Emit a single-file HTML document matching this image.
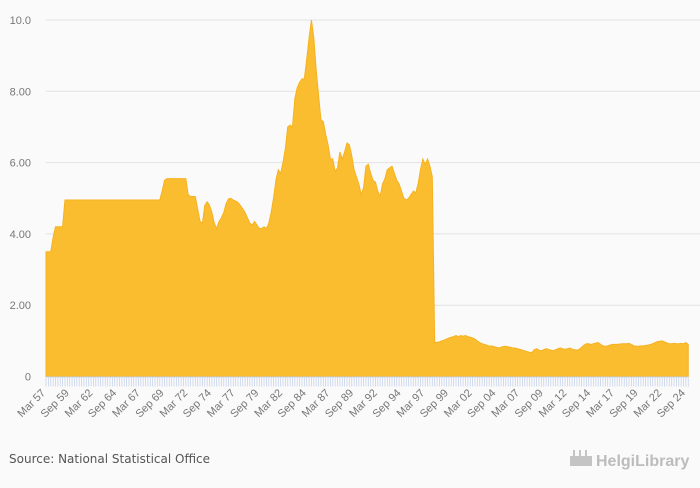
<!DOCTYPE html>
<html><head><meta charset="utf-8"><style>
html,body{margin:0;padding:0;background:#fafafa;}
body{width:700px;height:483px;overflow:hidden;font-family:"Liberation Sans",sans-serif;}
</style></head><body>
<svg id="chart" width="700" height="483" xmlns="http://www.w3.org/2000/svg">
<rect x="0" y="0" width="700" height="483" fill="#fafafa"/>
<g id="grid"></g>
<g id="yaxis"></g>
<path id="area" fill="#fbbd30" stroke="#f5b21f" stroke-width="1"/>
<g id="xaxis"></g>
<text x="9" y="463" font-size="12" fill="#555" font-family="DejaVu Sans, sans-serif">Source: National Statistical Office</text>
<g>
<rect x="570" y="456" width="22" height="10" fill="#c4c4c4"/>
<rect x="573" y="450" width="2" height="6" fill="#c4c4c4"/>
<rect x="579" y="450" width="2" height="6" fill="#c4c4c4"/>
<rect x="585" y="450" width="2" height="6" fill="#c4c4c4"/>
<text x="596" y="466" font-size="16" fill="#bcbcbc" font-weight="bold">HelgiLibrary</text>
</g>
</svg>
<script>
const yTicks=[0,2,4,6,8,10];
const yTickLabels=["0","2.00","4.00","6.00","8.00","10.0"];
const xTickLabels=["Mar 57","Sep 59","Mar 62","Sep 64","Mar 67","Sep 69","Mar 72","Sep 74","Mar 77","Sep 79","Mar 82","Sep 84","Mar 87","Sep 89","Mar 92","Sep 94","Mar 97","Sep 99","Mar 02","Sep 04","Mar 07","Sep 09","Mar 12","Sep 14","Mar 17","Sep 19","Mar 22","Sep 24"];
const values=[
3.5,3.5,3.5,3.9,4.2,4.2,4.2,4.2,4.95,4.95,
4.95,4.95,4.95,4.95,4.95,4.95,4.95,4.95,4.95,4.95,
4.95,4.95,4.95,4.95,4.95,4.95,4.95,4.95,4.95,4.95,
4.95,4.95,4.95,4.95,4.95,4.95,4.95,4.95,4.95,4.95,
4.95,4.95,4.95,4.95,4.95,4.95,4.95,4.95,4.95,5.2,
5.5,5.55,5.55,5.55,5.55,5.55,5.55,5.55,5.55,5.55,
5.1,5.05,5.05,5.05,4.7,4.35,4.3,4.8,4.9,4.8,
4.6,4.3,4.15,4.35,4.45,4.6,4.85,4.98,5.0,4.95,
4.92,4.88,4.8,4.7,4.6,4.45,4.3,4.25,4.35,4.25,
4.15,4.15,4.2,4.15,4.3,4.6,5.0,5.5,5.8,5.7,
6.0,6.4,7.0,7.05,7.0,7.8,8.1,8.25,8.35,8.35,
8.9,9.5,10.0,9.5,8.6,7.9,7.2,7.15,6.8,6.5,
6.1,6.1,5.75,5.85,6.3,6.1,6.3,6.55,6.5,6.2,
5.8,5.6,5.4,5.1,5.3,5.9,5.95,5.7,5.5,5.45,
5.2,5.05,5.4,5.55,5.8,5.85,5.9,5.7,5.5,5.4,
5.2,5.0,4.95,5.0,5.1,5.2,5.15,5.4,5.8,6.1,
5.95,6.1,5.9,5.6,0.95,0.96,0.97,1.0,1.02,1.05,
1.08,1.1,1.12,1.15,1.12,1.15,1.13,1.15,1.12,1.1,
1.08,1.05,1.0,0.95,0.92,0.9,0.88,0.85,0.86,0.84,
0.82,0.8,0.82,0.84,0.85,0.83,0.82,0.8,0.8,0.78,
0.76,0.74,0.72,0.7,0.68,0.67,0.75,0.78,0.74,0.72,
0.75,0.78,0.76,0.74,0.72,0.75,0.78,0.8,0.78,0.76,
0.78,0.8,0.77,0.75,0.74,0.76,0.82,0.88,0.92,0.92,
0.9,0.92,0.94,0.95,0.9,0.86,0.85,0.86,0.88,0.9,
0.9,0.9,0.91,0.92,0.92,0.92,0.93,0.9,0.86,0.85,
0.85,0.86,0.86,0.87,0.88,0.9,0.92,0.95,0.98,0.99,
1.0,0.97,0.94,0.92,0.92,0.93,0.92,0.92,0.93,0.92,0.95,0.9
];
const NS="http://www.w3.org/2000/svg";
const X0=46,STEP=2.37,Y0=376.5,YS=35.65;
function xScale(i){return X0+i*STEP;}
function yScale(v){return Y0-v*YS;}
const grid=document.getElementById('grid'),yax=document.getElementById('yaxis'),xax=document.getElementById('xaxis');
yTicks.forEach((t,k)=>{
  if(t>0){const l=document.createElementNS(NS,'line');
  
  
  l.setAttribute('x1',X0);l.setAttribute('x2',700);l.setAttribute('y1',yScale(t));l.setAttribute('y2',yScale(t));
  l.setAttribute('stroke','#e2e2e2');l.setAttribute('stroke-width','1');grid.appendChild(l);}
  const tx=document.createElementNS(NS,'text');
  
  
  tx.setAttribute('x',31);tx.setAttribute('y',yScale(t)+4);tx.setAttribute('text-anchor','end');
  tx.setAttribute('font-size','11');tx.setAttribute('fill','#777');tx.textContent=yTickLabels[k];yax.appendChild(tx);
});
let d='M'+xScale(0)+','+Y0;
values.forEach((v,i)=>{d+=' L'+xScale(i).toFixed(2)+','+yScale(v).toFixed(2);});
d+=' L'+xScale(values.length-1).toFixed(2)+','+Y0+' Z';
document.getElementById('area').setAttribute('d',d);
const base=document.createElementNS(NS,'line');


base.setAttribute('x1',X0);base.setAttribute('x2',xScale(values.length-1));base.setAttribute('y1',Y0+0.5);base.setAttribute('y2',Y0+0.5);
base.setAttribute('stroke','#c8d4ea');xax.appendChild(base);
values.forEach((v,i)=>{
  const t=document.createElementNS(NS,'line');
  
  
  t.setAttribute('x1',xScale(i));t.setAttribute('x2',xScale(i));t.setAttribute('y1',Y0+1);t.setAttribute('y2',Y0+10);
  t.setAttribute('stroke','#c8d4ea');t.setAttribute('stroke-width','0.8');xax.appendChild(t);
});
xTickLabels.forEach((lab,k)=>{
  const x=xScale(k*10),y=Y0+17;
  const tx=document.createElementNS(NS,'text');
  
  
  tx.setAttribute('x',x);tx.setAttribute('y',y);tx.setAttribute('text-anchor','end');
  tx.setAttribute('font-size','11');tx.setAttribute('fill','#777');
  tx.setAttribute('transform','rotate(-45 '+x+' '+y+')');tx.textContent=lab;xax.appendChild(tx);
});
</script>
</body></html>
